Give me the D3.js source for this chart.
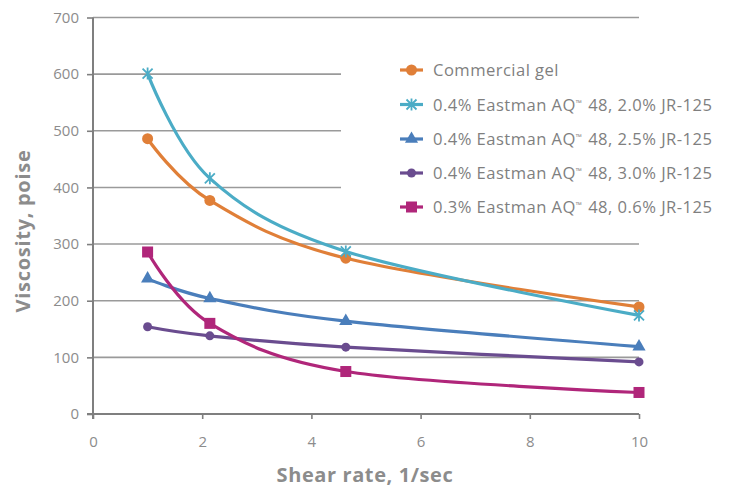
<!DOCTYPE html>
<html><head><meta charset="utf-8">
<script src="https://cdn.jsdelivr.net/npm/d3@7"></script>
<style>body{margin:0;background:#fff;font-family:"Open Sans",sans-serif}</style>
</head><body><svg id="c" width="729" height="487"></svg>
<script>
const shearRates = [1.0, 2.14, 4.63, 10];
const seriesNames = ["Commercial gel","0.4% Eastman AQ\u2122 48, 2.0% JR-125","0.4% Eastman AQ\u2122 48, 2.5% JR-125","0.4% Eastman AQ\u2122 48, 3.0% JR-125","0.3% Eastman AQ\u2122 48, 0.6% JR-125"];
const commercialGel = [486, 377, 275, 189];
const aq48jr20 = [601, 416, 287, 174];
const aq48jr25 = [239, 204, 164, 119];
const aq48jr30 = [154, 138, 118, 92];
const aq03jr06 = [286, 160, 75, 38];
const yTicks = [0,100,200,300,400,500,600,700];
const xTicks = [0,2,4,6,8,10];
const colors = ["#E07F38","#4BACC6","#4A7EBB","#6A4C8F","#B0267A"];
const markers = ["circle","star","triangle","smallcircle","square"];
const seriesValues = [commercialGel, aq48jr20, aq48jr25, aq48jr30, aq03jr06];

const svg = d3.select("#c");
const x = d3.scaleLinear().domain([0,10]).range([93,639]);
const y = d3.scaleLinear().domain([0,700]).range([414,17.5]);

const g = svg.append("g");
yTicks.forEach(t=>{
  if(t===0) return;
  const short = t>=400 && t<=600;
  g.append("line").attr("x1",x(0)).attr("x2", short ? 341 : x(10))
    .attr("y1",y(t)).attr("y2",y(t)).attr("stroke","#9a9a9a").attr("stroke-width",1.6);
});

const yAxis = d3.axisLeft(y).tickValues(yTicks).tickSize(6).tickPadding(8);
const ya = svg.append("g").attr("transform",`translate(${x(0)},0)`).call(yAxis);
const xAxis = d3.axisBottom(x).tickValues(xTicks).tickSize(5).tickPadding(17);
const xa = svg.append("g").attr("transform",`translate(0,${y(0)})`).call(xAxis);
[ya,xa].forEach(a=>{
  a.select(".domain").attr("stroke","#7f7f7f").attr("stroke-width",2);
  a.selectAll(".tick line").attr("stroke","#7f7f7f").attr("stroke-width",1.6);
  a.selectAll("text").attr("fill","#8c8c8c").style("font-size","15px").style("font-family","Open Sans, sans-serif");
});
ya.select(".domain").attr("d",`M0,${y(0)+5}V${y(700)}`);
xa.select(".domain").attr("d",`M${x(0)-6},0H${x(10)}`);

svg.append("text").attr("transform",`translate(30,231) rotate(-90)`)
  .attr("text-anchor","middle").attr("fill","#8c8c8c").style("font-size","20px").style("font-weight","bold")
  .style("letter-spacing","0.7px").text("Viscosity, poise");
svg.append("text").attr("x",365).attr("y",482).attr("text-anchor","middle")
  .attr("fill","#8c8c8c").style("font-size","20px").style("font-weight","bold")
  .style("letter-spacing","0.6px").text("Shear rate, 1/sec");

function drawMarker(sel, type, color, cx, cy){
  if(type==="circle") sel.append("circle").attr("cx",cx).attr("cy",cy).attr("r",5.5).attr("fill",color);
  else if(type==="smallcircle") sel.append("circle").attr("cx",cx).attr("cy",cy).attr("r",4.5).attr("fill",color);
  else if(type==="square") sel.append("rect").attr("x",cx-5.5).attr("y",cy-5.5).attr("width",11).attr("height",11).attr("fill",color);
  else if(type==="triangle") sel.append("path").attr("d",d3.symbol().type(d3.symbolTriangle).size(75)()).attr("transform",`translate(${cx},${cy})`).attr("fill",color);
  else if(type==="star"){
    const s=5;
    sel.append("path").attr("d",`M${cx-s},${cy-s}L${cx+s},${cy+s}M${cx-s},${cy+s}L${cx+s},${cy-s}M${cx},${cy-s-1}L${cx},${cy+s+1}`)
      .attr("stroke",color).attr("stroke-width",1.8).attr("fill","none");
  }
}

const line = d3.line().x(d=>x(d[0])).y(d=>y(d[1])).curve(d3.curveCatmullRom.alpha(0));
seriesValues.forEach((vals,i)=>{
  const pts = shearRates.map((r,j)=>[r,vals[j]]);
  const sg = svg.append("g");
  sg.append("path").attr("d",line(pts)).attr("fill","none").attr("stroke",colors[i]).attr("stroke-width",3.2);
  pts.forEach(p=>drawMarker(sg, markers[i], colors[i], x(p[0]), y(p[1])));
});

const legendY = [70, 104.5, 139, 173, 207];
seriesNames.forEach((n,i)=>{
  const lg = svg.append("g");
  lg.append("line").attr("x1",400).attr("x2",423).attr("y1",legendY[i]).attr("y2",legendY[i])
    .attr("stroke",colors[i]).attr("stroke-width",3.2);
  drawMarker(lg, markers[i], colors[i], 411.5, legendY[i]);
  const t = lg.append("text").attr("x",433).attr("y",legendY[i]+6).attr("fill","#7f7f7f")
    .style("font-size","16.6px").style("letter-spacing","0.45px");
  const parts = n.split("\u2122");
  t.append("tspan").text(parts[0]);
  if(parts.length>1){
    t.append("tspan").attr("dy",-5).style("font-size","8px").text("\u2122");
    t.append("tspan").attr("dy",5).attr("dx",1).text(parts[1]);
  }
});
</script></body></html>
